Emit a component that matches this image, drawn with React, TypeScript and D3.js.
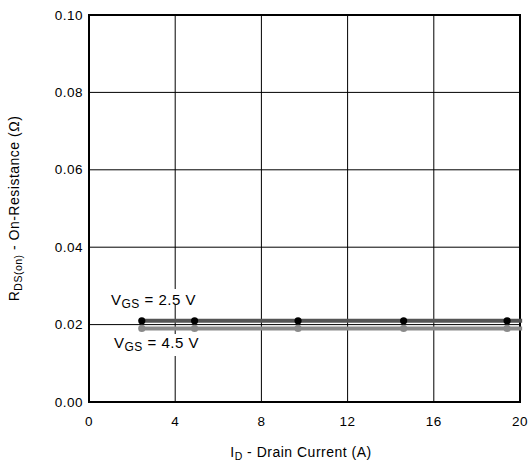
import React from "react";
import * as d3 from "d3";

const xTicks = [0, 4, 8, 12, 16, 20];
const yTicks = [0, 0.02, 0.04, 0.06, 0.08, 0.1];
const currents = [2.45, 4.9, 9.7, 14.6, 19.4];
const rds25 = [0.021, 0.021, 0.021, 0.021, 0.021];
const rds45 = [0.019, 0.019, 0.019, 0.019, 0.019];
const lineEndX = 20.1;

const W = 532, H = 469;
const L = 89, R = 520, T = 15, B = 402;
const font = "'Liberation Sans', Arial, Helvetica, sans-serif";

export default function App() {
  const x = d3.scaleLinear().domain([0, 20]).range([L, R]);
  const y = d3.scaleLinear().domain([0, 0.1]).range([B, T]);
  const line = d3.line<[number, number]>().x(d => x(d[0])).y(d => y(d[1]));
  const series = [
    { vals: rds45, lineColor: "#8a8a8a", dot: "#8a8a8a" },
    { vals: rds25, lineColor: "#555555", dot: "#000000" },
  ];
  return (
    <svg width={W} height={H} style={{ position: "absolute", left: 0, top: 0 }} fontFamily={font} letterSpacing={0.5}>
      <rect width={W} height={H} fill="#fff" />
      {xTicks.slice(1, -1).map(t => (
        <line key={"gx" + t} x1={x(t)} x2={x(t)} y1={T} y2={B} stroke="#000" strokeWidth={1} />
      ))}
      {yTicks.slice(1, -1).map(t => (
        <line key={"gy" + t} x1={L} x2={R} y1={y(t)} y2={y(t)} stroke="#000" strokeWidth={1} />
      ))}
      <rect x={L} y={T} width={R - L} height={B - T} fill="none" stroke="#000" strokeWidth={2} />
      {xTicks.map(t => (
        <text key={"xt" + t} x={x(t)} y={426} textAnchor="middle" fontSize={13.5} fill="#000">{t}</text>
      ))}
      {yTicks.map(t => (
        <text key={"yt" + t} x={83} y={y(t) + 4.5} textAnchor="end" fontSize={13.5} fill="#000">{t.toFixed(2)}</text>
      ))}
      <rect x={108} y={289} width={90} height={15} fill="#fff" />
      <rect x={110} y={334} width={90} height={22} fill="#fff" />
      {series.map((s, i) => {
        const pts: [number, number][] = currents.map((c, j) => [c, s.vals[j]] as [number, number]);
        pts.push([lineEndX, s.vals[s.vals.length - 1]]);
        return (
          <g key={i}>
            <path d={line(pts) || ""} fill="none" stroke={s.lineColor} strokeWidth={4} />
            {currents.map((c, j) => (
              <circle key={j} cx={x(c)} cy={y(s.vals[j])} r={3.6} fill={s.dot} />
            ))}
          </g>
        );
      })}
      <text x={111} y={305} fontSize={15} fill="#000">
        V<tspan fontSize={12} dy={3}>GS</tspan><tspan dy={-3}> = 2.5 V</tspan>
      </text>
      <text x={114} y={348} fontSize={15} fill="#000">
        V<tspan fontSize={12} dy={3}>GS</tspan><tspan dy={-3}> = 4.5 V</tspan>
      </text>
      <text x={301} y={457} textAnchor="middle" fontSize={14} fill="#000">
        I<tspan fontSize={10.5} dy={3}>D</tspan><tspan dy={-3}> - Drain Current (A)</tspan>
      </text>
      <text transform={`translate(19, ${(T + B) / 2}) rotate(-90)`} textAnchor="middle" fontSize={14} fill="#000">
        R<tspan fontSize={10.5} dy={3}>DS(on)</tspan><tspan dy={-3}> - On-Resistance (Ω)</tspan>
      </text>
    </svg>
  );
}
